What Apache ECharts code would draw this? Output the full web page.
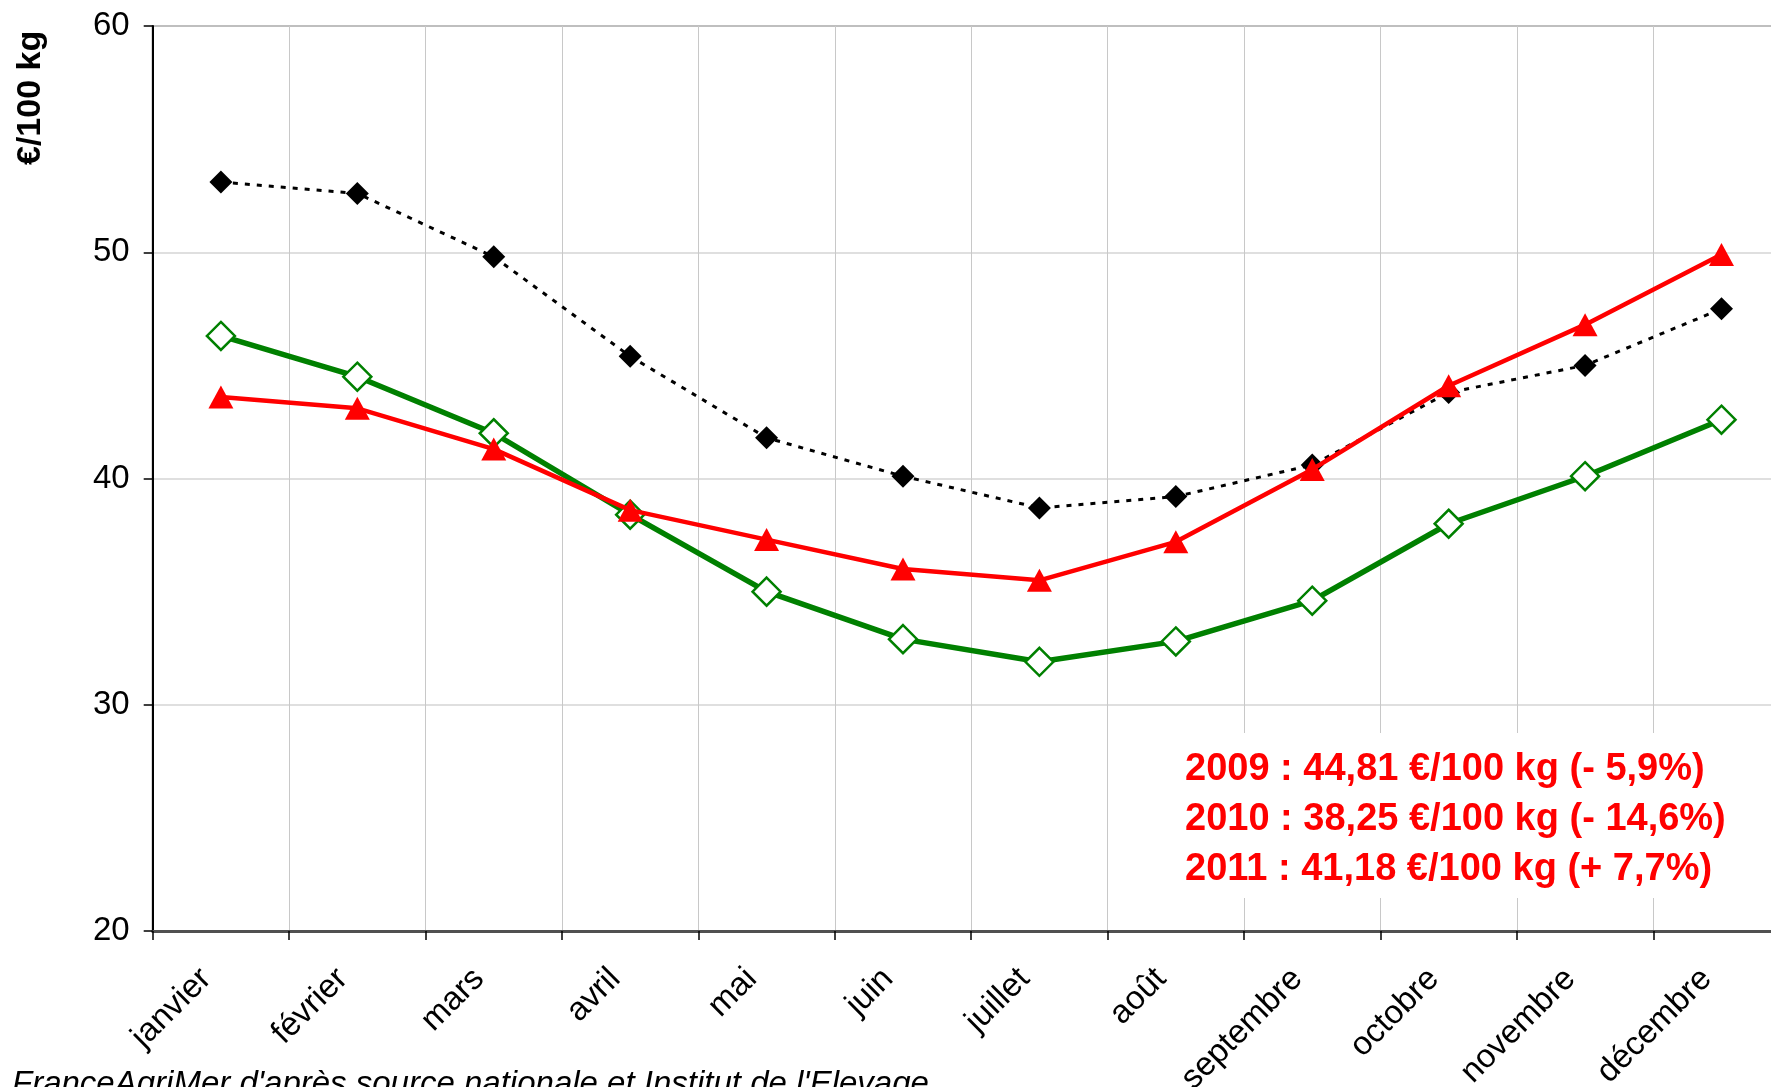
<!DOCTYPE html>
<html>
<head>
<meta charset="utf-8">
<script src="https://cdn.jsdelivr.net/npm/echarts@6/dist/echarts.min.js"></script>
<style>
  html, body { margin: 0; padding: 0; background: #fff; overflow: hidden; }
  /* plot area runs past the right edge of the window, like the original */
  #chart { width: 1800px; height: 1087px; }
</style>
</head>
<body>
<div id="chart"></div>
<script>
// mois
var months = ['janvier', 'février', 'mars', 'avril', 'mai', 'juin', 'juillet', 'août', 'septembre', 'octobre', 'novembre', 'décembre'];
// prix mensuels en €/100 kg
var prix2009 = [53.1, 52.6, 49.8, 45.4, 41.8, 40.1, 38.7, 39.2, 40.6, 43.8, 45.0, 47.5];
var prix2010 = [46.3, 44.5, 42.0, 38.4, 35.0, 32.9, 31.9, 32.8, 34.6, 38.0, 40.1, 42.6];
var prix2011 = [43.6, 43.1, 41.3, 38.6, 37.3, 36.0, 35.5, 37.2, 40.4, 44.1, 46.8, 49.9];
// moyennes annuelles
var notes = [
    '2009 : 44,81 €/100 kg (- 5,9%)',
    '2010 : 38,25 €/100 kg (- 14,6%)',
    '2011 : 41,18 €/100 kg (+ 7,7%)'
];
var yTicks = { min: 20, max: 60, step: 10 };

var FONT = '"Liberation Sans", Arial, sans-serif';

var chart = echarts.init(document.getElementById('chart'));

var noteGraphics = notes.map(function (t, i) {
    return {
        type: 'text',
        x: 1185,
        y: 751 + i * 50,
        z: 20,
        style: { text: t, font: 'bold 38px ' + FONT, fill: '#ff0000' }
    };
});

var option = {
    backgroundColor: '#ffffff',
    animation: false,
    grid: {
        left: 152.7,
        top: 26,
        width: 1637,
        bottom: 156,
        outerBoundsMode: 'none',
        containLabel: false,
        show: true,
        borderColor: '#808080',
        borderWidth: 2
    },
    xAxis: {
        type: 'category',
        data: months,
        boundaryGap: true,
        axisLine: { lineStyle: { color: '#505050', width: 3 } },
        axisTick: { show: true, length: 9, lineStyle: { color: '#000', width: 1.5 } },
        axisLabel: {
            interval: 0, rotate: 45, margin: 28,
            padding: [0, 21, 0, 0],
            fontFamily: FONT, fontSize: 33, color: '#000'
        },
        splitLine: { show: true, lineStyle: { color: '#c8c8c8', width: 1 } }
    },
    yAxis: {
        type: 'value',
        min: yTicks.min,
        max: yTicks.max,
        interval: yTicks.step,
        axisLine: { show: true, lineStyle: { color: '#000', width: 2 } },
        axisTick: { show: true, length: 9, lineStyle: { color: '#000', width: 1.5 } },
        axisLabel: { margin: 23, fontFamily: FONT, fontSize: 33, color: '#000' },
        splitLine: { show: true, lineStyle: { color: '#d4d4d4', width: 1.5 } }
    },
    series: [
        {
            name: '2009',
            type: 'line',
            data: prix2009,
            symbol: 'diamond',
            symbolSize: 23,
            lineStyle: { color: '#000', width: 3, type: [5, 7] },
            itemStyle: { color: '#000' },
            z: 2
        },
        {
            name: '2010',
            type: 'line',
            data: prix2010,
            symbol: 'diamond',
            symbolSize: 28,
            lineStyle: { color: '#008000', width: 5.5 },
            itemStyle: { color: '#ffffff', borderColor: '#008000', borderWidth: 2.5 },
            z: 3
        },
        {
            name: '2011',
            type: 'line',
            data: prix2011,
            symbol: 'triangle',
            symbolSize: [25, 23],
            lineStyle: { color: '#ff0000', width: 4.5 },
            itemStyle: { color: '#ff0000' },
            z: 4
        }
    ],
    graphic: [
        {
            type: 'rect',
            z: 10,
            shape: { x: 1172, y: 733, width: 640, height: 165 },
            style: { fill: '#ffffff' }
        },
        {
            type: 'text',
            x: 14,
            y: 165,
            rotation: Math.PI / 2,
            z: 20,
            style: { text: '€/100 kg', font: 'bold 34px ' + FONT, fill: '#000' }
        },
        {
            type: 'text',
            x: 12,
            y: 1068,
            z: 20,
            style: {
                text: "FranceAgriMer d'après source nationale et Institut de l'Elevage",
                font: 'italic 33px ' + FONT, fill: '#000'
            }
        }
    ].concat(noteGraphics)
};

chart.setOption(option);
</script>
</body>
</html>
